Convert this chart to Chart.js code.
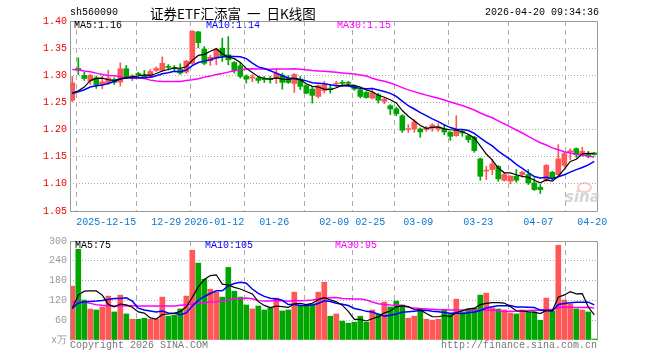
<!DOCTYPE html>
<html><head><meta charset="utf-8">
<script src="https://cdn.jsdelivr.net/npm/chart.js@4/dist/chart.umd.min.js"></script>
<style>
html,body{margin:0;padding:0;background:#fff}
#wrap{position:relative;width:660px;height:360px;overflow:hidden;background:#fff}
canvas{position:absolute;left:0}
.t{position:absolute;font-family:"Liberation Mono","DejaVu Sans Mono",monospace;font-size:10px;line-height:12px;white-space:nowrap;color:#000}
</style></head><body>
<div id="wrap">
<canvas id="pc" width="660" height="230" style="top:0"></canvas>
<canvas id="vc" width="660" height="130" style="top:230px"></canvas>
<div class="t" style="left:70px;top:7px">sh560090</div>
<div class="t" style="left:150px;top:5px;font-family:'Noto Sans CJK SC';font-size:13.5px;line-height:16px;word-spacing:3px">证券ETF汇添富 一 日K线图</div>
<div class="t" style="right:61px;top:7px">2026-04-20 09:34:36</div>
<div class="t" style="left:74px;top:20px">MA5:1.16</div>
<div class="t" style="left:206px;top:20px;color:#0000ff">MA10:1.14</div>
<div class="t" style="left:337px;top:20px;color:#ff00ff">MA30:1.15</div>
<div class="t" style="left:75px;top:240px">MA5:75</div>
<div class="t" style="left:205px;top:240px;color:#0000ff">MA10:105</div>
<div class="t" style="left:335px;top:240px;color:#ff00ff">MA30:95</div>
<div class="t" style="left:70px;top:340px;color:#777">Copyright 2026 SINA.COM</div>
<div class="t" style="right:63px;top:340px;color:#777">http://finance.sina.com.cn</div>
<div style="position:absolute;left:577px;top:182px;width:11px;height:7px;border:2px solid rgba(240,170,170,0.6);border-radius:50%"></div>
<div class="t" style="left:565px;top:191px;font-family:'DejaVu Sans';font-size:15px;font-style:italic;font-weight:bold;color:rgba(195,195,195,0.7)">sina</div>
</div>
<script>
const dates = ['2025-12-05','2025-12-08','2025-12-09','2025-12-10','2025-12-11','2025-12-12','2025-12-15','2025-12-16','2025-12-17','2025-12-18',
'2025-12-19','2025-12-22','2025-12-23','2025-12-24','2025-12-25','2025-12-26','2025-12-29','2025-12-30','2025-12-31','2026-01-05',
'2026-01-06','2026-01-07','2026-01-08','2026-01-09','2026-01-12','2026-01-13','2026-01-14','2026-01-15','2026-01-16','2026-01-19',
'2026-01-20','2026-01-21','2026-01-22','2026-01-23','2026-01-26','2026-01-27','2026-01-28','2026-01-29','2026-01-30','2026-02-02',
'2026-02-03','2026-02-04','2026-02-05','2026-02-06','2026-02-09','2026-02-10','2026-02-11','2026-02-12','2026-02-13','2026-02-24',
'2026-02-25','2026-02-26','2026-02-27','2026-03-02','2026-03-03','2026-03-04','2026-03-05','2026-03-06','2026-03-09','2026-03-10',
'2026-03-11','2026-03-12','2026-03-13','2026-03-16','2026-03-17','2026-03-18','2026-03-19','2026-03-20','2026-03-23','2026-03-24',
'2026-03-25','2026-03-26','2026-03-27','2026-03-30','2026-03-31','2026-04-01','2026-04-02','2026-04-03','2026-04-07','2026-04-08',
'2026-04-09','2026-04-10','2026-04-13','2026-04-14','2026-04-15','2026-04-16','2026-04-17','2026-04-20'];

const open = [1.254,1.3126,1.2997,1.2893,1.2954,1.2831,1.2862,1.2923,1.2874,1.312,
1.2942,1.3034,1.2997,1.2966,1.3089,1.3089,1.3162,1.3138,1.3114,1.3058,
1.3218,1.380,1.3481,1.3265,1.3316,1.3499,1.3377,1.3236,1.3175,1.2979,
1.2948,1.2948,1.294,1.2935,1.2954,1.3004,1.2942,1.2849,1.293,1.2807,
1.2746,1.2611,1.2716,1.2764,1.2838,1.2862,1.286,1.2807,1.2734,1.2684,
1.258,1.2641,1.2519,1.2439,1.2384,1.2255,1.200,1.2016,1.2011,1.1998,
1.2029,1.2011,1.2011,1.1949,1.1888,1.1967,1.1888,1.1857,1.146,1.1235,
1.1263,1.1324,1.1066,1.1048,1.114,1.1171,1.1171,1.1018,1.0938,1.1061,
1.1214,1.1171,1.1342,1.1588,1.1649,1.1552,1.1557,1.157];
const high = [1.298,1.332,1.3058,1.3015,1.2985,1.2985,1.3095,1.2954,1.323,1.3181,
1.3015,1.3058,1.3089,1.3107,1.3156,1.334,1.3199,1.3181,1.3212,1.3273,
1.3825,1.3812,1.353,1.337,1.3499,1.3683,1.3713,1.3254,1.3224,1.3009,
1.301,1.2979,1.2979,1.2979,1.3125,1.304,1.2991,1.3034,1.2979,1.2825,
1.2795,1.2825,1.2887,1.2825,1.2887,1.2905,1.2887,1.2825,1.2764,1.2703,
1.2764,1.2672,1.258,1.2458,1.2415,1.2274,1.209,1.2182,1.203,1.2059,
1.2108,1.2108,1.209,1.1967,1.2256,1.1998,1.1906,1.1875,1.1478,1.1324,
1.1447,1.1336,1.1202,1.1153,1.1263,1.1232,1.1263,1.111,1.0987,1.1355,
1.1232,1.1723,1.1581,1.1649,1.1662,1.1674,1.160,1.158];
const low = [1.251,1.3015,1.2905,1.2831,1.2758,1.2752,1.2831,1.2831,1.2801,1.2942,
1.290,1.2985,1.2954,1.2954,1.307,1.307,1.3095,1.3077,1.3015,1.3034,
1.3199,1.3506,1.3193,1.318,1.3193,1.3254,1.3193,1.304,1.2948,1.2856,
1.288,1.2856,1.2868,1.2856,1.2849,1.2746,1.285,1.2684,1.2734,1.266,
1.2488,1.258,1.2672,1.2672,1.2795,1.2795,1.2807,1.2722,1.258,1.258,
1.2562,1.2488,1.2476,1.2274,1.2255,1.1949,1.1949,1.1949,1.1857,1.1967,
1.1967,1.1967,1.1906,1.1801,1.1875,1.1875,1.1765,1.1581,1.1066,1.1079,
1.1171,1.1048,1.1048,1.100,1.1029,1.1122,1.0987,1.0877,1.0822,1.1048,
1.1066,1.114,1.1312,1.1447,1.1489,1.1508,1.1478,1.153];
const close = [1.286,1.309,1.294,1.300,1.282,1.288,1.295,1.287,1.312,1.295,
1.2985,1.301,1.297,1.307,1.3126,1.322,1.3145,1.312,1.304,1.326,
1.381,1.360,1.322,1.333,1.348,1.335,1.3285,1.309,1.298,1.293,
1.297,1.2905,1.292,1.292,1.304,1.287,1.2868,1.3015,1.2795,1.267,
1.263,1.281,1.2825,1.2734,1.2856,1.2852,1.2852,1.2746,1.261,1.259,
1.268,1.254,1.256,1.238,1.229,1.1986,1.201,1.214,1.1956,1.2022,
1.2083,1.2047,1.1956,1.1875,1.1985,1.1937,1.1814,1.1612,1.114,1.1245,
1.1368,1.1092,1.1171,1.114,1.1066,1.1214,1.1018,1.0895,1.0895,1.1342,
1.1098,1.146,1.1557,1.161,1.1539,1.160,1.1508,1.1539];
const ma5 = [1.2673,1.2715,1.2783,1.2905,1.2942,1.2946,1.2918,1.2904,1.2928,1.2954,
1.2975,1.2987,1.3007,1.2997,1.3032,1.3079,1.3106,1.3136,1.3130,1.3157,
1.3275,1.3366,1.3386,1.3444,1.3488,1.3396,1.3333,1.3307,1.3237,1.3127,
1.3051,1.2975,1.2941,1.2929,1.2951,1.2931,1.2924,1.2943,1.2918,1.2844,
1.2796,1.2784,1.2746,1.2734,1.2771,1.2815,1.2824,1.2808,1.2783,1.2730,
1.2696,1.2633,1.2596,1.2550,1.2490,1.2351,1.2245,1.2161,1.2076,1.2023,
1.2042,1.2050,1.2013,1.1997,1.1989,1.1960,1.1913,1.1845,1.1698,1.1550,
1.1436,1.1291,1.1203,1.1203,1.1167,1.1137,1.1122,1.1067,1.1018,1.1073,
1.1050,1.1138,1.1270,1.1413,1.1453,1.1553,1.1563,1.1559];
const ma10 = [1.2666,1.2697,1.2733,1.2783,1.2807,1.2820,1.2850,1.2886,1.2936,1.2948,
1.2961,1.2953,1.2956,1.2963,1.2993,1.3027,1.3047,1.3072,1.3064,1.3095,
1.3177,1.3236,1.3261,1.3287,1.3323,1.3336,1.3350,1.3347,1.3341,1.3308,
1.3224,1.3154,1.3124,1.3083,1.3039,1.2991,1.2949,1.2942,1.2923,1.2897,
1.2863,1.2854,1.2844,1.2826,1.2807,1.2806,1.2804,1.2777,1.2759,1.2751,
1.2756,1.2729,1.2702,1.2667,1.2610,1.2523,1.2439,1.2379,1.2313,1.2256,
1.2197,1.2147,1.2087,1.2037,1.2006,1.2001,1.1982,1.1929,1.1847,1.1769,
1.1698,1.1602,1.1524,1.1450,1.1359,1.1286,1.1207,1.1135,1.1110,1.1120,
1.1093,1.1130,1.1169,1.1216,1.1263,1.1301,1.1350,1.1415];
const ma30 = [1.3107,1.3101,1.3077,1.3064,1.3040,1.3015,1.2997,1.2991,1.2972,1.2954,
1.2954,1.2948,1.2942,1.2911,1.2893,1.2887,1.2887,1.2887,1.2887,1.2905,
1.2917,1.2936,1.2966,1.2985,1.3015,1.3034,1.3058,1.3083,1.3095,1.3117,
1.3120,1.3114,1.3114,1.3111,1.3118,1.3118,1.3115,1.3120,1.3109,1.3100,
1.3088,1.3081,1.3076,1.3065,1.3056,1.3044,1.3034,1.3022,1.3007,1.2985,
1.2947,1.2912,1.2890,1.2858,1.2819,1.2773,1.2731,1.2699,1.2665,1.2635,
1.2605,1.2576,1.2544,1.2509,1.2474,1.2443,1.2403,1.2361,1.2306,1.2259,
1.2217,1.2159,1.2104,1.2051,1.1992,1.1937,1.1876,1.1814,1.1757,1.1715,
1.1663,1.1627,1.1593,1.1567,1.1542,1.1530,1.1513,1.1493];
const vol = [163,275,121,94,91,100,133,85,136,79,
63,63,66,63,63,130,72,75,94,133,
272,233,184,154,145,130,220,148,130,106,
94,103,91,97,127,88,91,145,106,106,
109,145,175,72,79,57,51,54,72,54,
91,79,115,100,118,106,66,72,94,63,
60,63,91,79,124,85,94,97,136,142,
97,94,91,82,79,91,85,85,60,127,
88,287,121,109,94,91,85,3];
const vma5 = [96,136,148,149,148.8,136.2,107.8,100.6,109,106.6,
99.2,85.2,81.4,66.8,63.6,77,78.8,80.6,86.8,100.8,
129.2,161.4,183.2,195.2,197.6,169.2,166.6,159.4,154.6,146.8,
139.6,116.2,104.8,98.2,102.4,101.2,98.8,109.6,111.4,107.2,
111.4,122.2,128.2,121.4,116,105.6,86.8,62.6,62.6,57.6,
64.4,70,82.2,87.8,100.6,103.6,101,92.4,91.2,80.2,
71,70.4,74.2,71.2,83.4,88.4,94.6,95.8,107.2,110.8,
113.2,113.2,112,101.2,88.6,87.4,85.6,84.4,80,89.6,
89,129.4,136.6,146.4,139.8,140.4,100,76.4];
const vma10 = [96,112,115,117,118,120,123,126,126,127.7,
117.7,96.5,91,87.9,85.1,88.1,82,81,76.8,82.2,
103.1,120.1,131.9,141,149.2,149.2,164,171.3,174.9,172.2,
154.4,141.4,132.1,126.4,124.6,120.4,107.5,107.2,104.8,104.8,
106.3,110.5,118.9,116.4,111.6,108.5,104.5,95.4,92,86.8,
85,78.4,72.4,75.2,79.1,84,85.5,87.3,89.5,90.4,
87.3,85.7,83.3,81.2,81.8,79.7,82.5,85,89.2,97.1,
100.8,103.9,103.9,104.2,99.7,100.3,99.4,98.2,90.6,89.1,
88.2,107.5,110.5,113.2,114.7,114.7,114.7,106.5];
const vma30 = [116,116,114,111,107,105,104,103,104,104,
104,103,103,103,103,103,103,103,105,107,
109,111,113,115,116,118,121,124,125,127.4,
125.1,119.3,118.3,118.4,119.6,119.2,117.8,119.8,118.8,119.7,
121.3,124,127.6,127.9,128.5,126,125.3,124.6,123.9,121.3,
115.2,110.1,107.8,106,105.1,104.3,99.2,96.6,95.4,94,
92.9,91.5,91.5,90.9,90.8,90.7,90.8,89.2,90.2,91.4,
91,89.3,86.5,86.9,86.9,88,89.1,90.2,89.8,92.2,
92.1,99,99.2,99.5,98.7,98.2,98.9,96.6];
const tickDates = ['2025-12-15','2025-12-29','2026-01-12','2026-01-26','2026-02-09','2026-02-25','2026-03-09','2026-03-23','2026-04-07','2026-04-20'];
const tickLabels = ['2025-12-15','12-29','2026-01-12','01-26','02-09','02-25','03-09','03-23','04-07','04-20'];
const priceTicks = [1.05,1.10,1.15,1.20,1.25,1.30,1.35,1.40];
const volTicks = [0,60,120,180,240,300];

const UP = '#ff5656', DOWN = '#00a600';
const MONO = '"Liberation Mono","DejaVu Sans Mono",monospace';
const GRID_SHIFT = 1/3;
const xPos = dates.map((d, i) => i + 1);
const colors = close.map((c, i) => c >= open[i] ? UP : DOWN);
const tickPos = tickDates.map(d => dates.indexOf(d) + 1 - GRID_SHIFT);
const labelFor = v => { const j = tickPos.findIndex(p => Math.abs(p - v) < 0.01); return j >= 0 ? tickLabels[j] : ''; };
const series = arr => xPos.map((x, i) => ({x: x, y: arr[i]}));

const frame = (bottom) => ({
  id: 'frame',
  afterDraw(chart) {
    const {ctx, chartArea: a} = chart;
    const l = Math.round(a.left) + 0.5, r = Math.round(a.right) + 0.5, t = Math.round(a.top) + 0.5, b = Math.round(a.bottom) + 0.5;
    ctx.save();
    ctx.strokeStyle = '#999'; ctx.lineWidth = 1; ctx.setLineDash([]);
    ctx.beginPath();
    if (bottom) { ctx.moveTo(l, b); ctx.lineTo(r, b); }
    ctx.moveTo(l, b); ctx.lineTo(l, t); ctx.lineTo(r, t); ctx.lineTo(r, b);
    ctx.stroke();
    ctx.restore();
  }
});

const xScale = (showLabels, h) => ({
  type: 'linear', min: 0.617, max: 88.45, offset: false,
  afterBuildTicks: ax => { ax.ticks = tickPos.map(v => ({value: v})); },
  afterFit: ax => { ax.height = h; },
  ticks: {display: showLabels, autoSkip: false, maxRotation: 0, minRotation: 0, padding: 5,
    color: '#0a78d2', font: {family: MONO, size: 10}, callback: v => labelFor(v)},
  grid: {color: '#aaa', drawTicks: false, lineWidth: 1},
  border: {display: false, dash: [5, 4]}
});

const line = (arr, color, w, order) => ({type: 'line', data: series(arr), borderColor: color, borderWidth: w,
  pointRadius: 0, tension: 0, fill: false, order: order});

new Chart(document.getElementById('pc'), {
  type: 'bar',
  data: {datasets: [
    {type: 'bar', data: xPos.map((x, i) => ({x: x, y: [low[i], high[i]]})), backgroundColor: colors, barThickness: 1, grouped: false, order: 5},
    {type: 'bar', data: xPos.map((x, i) => ({x: x, y: [open[i], close[i]]})), backgroundColor: colors, barThickness: 5, grouped: false, minBarLength: 1, order: 4},
    line(ma30, '#ff00ff', 1.5, 2),
    line(ma10, '#0000ff', 1.5, 1),
    line(ma5, '#000000', 1.2, 0)
  ]},
  options: {
    responsive: false, animation: false, devicePixelRatio: 1,
    layout: {padding: {top: 21, right: 63, left: 0, bottom: 0}},
    plugins: {legend: {display: false}, tooltip: {enabled: false}},
    scales: {
      x: xScale(true, 19),
      y: {min: 1.05, max: 1.40,
        afterBuildTicks: ax => { ax.ticks = priceTicks.map(v => ({value: v})); },
        afterFit: ax => { ax.width = 70; },
        ticks: {color: '#ee0000', padding: 3, font: {family: MONO, size: 10}, callback: v => v.toFixed(2)},
        grid: {color: '#aaa', drawTicks: false},
        border: {display: false, dash: [1, 2]}}
    }
  },
  plugins: [frame(true)]
});

new Chart(document.getElementById('vc'), {
  type: 'bar',
  data: {datasets: [
    {type: 'bar', data: xPos.map((x, i) => ({x: x, y: vol[i]})), backgroundColor: colors, barThickness: 5, grouped: false, order: 4},
    line(vma30, '#ff00ff', 1.5, 2),
    line(vma10, '#0000ff', 1.5, 1),
    line(vma5, '#000000', 1.2, 0)
  ]},
  options: {
    responsive: false, animation: false, devicePixelRatio: 1,
    layout: {padding: {top: 11, right: 63, left: 0, bottom: 0}},
    plugins: {legend: {display: false}, tooltip: {enabled: false}},
    scales: {
      x: xScale(false, 20),
      y: {min: 0, max: 300,
        afterBuildTicks: ax => { ax.ticks = volTicks.map(v => ({value: v})); },
        afterFit: ax => { ax.width = 70; },
        ticks: {color: '#999', padding: 3, font: {family: MONO, size: 10}, callback: v => v === 0 ? 'x万' : String(v)},
        grid: {color: ctx => (ctx.tick && ctx.tick.value === 0) ? 'rgba(0,0,0,0)' : '#aaa', drawTicks: false},
        border: {display: false, dash: [1, 2]}}
    }
  },
  plugins: [frame(false)]
});
</script>
</body></html>
